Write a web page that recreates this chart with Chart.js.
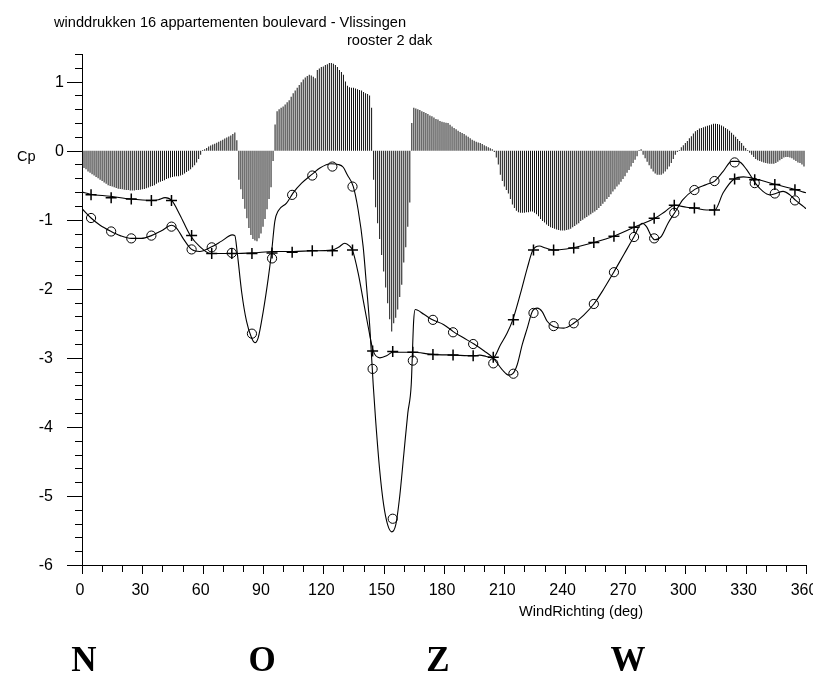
<!DOCTYPE html>
<html>
<head>
<meta charset="utf-8">
<script src="https://cdn.jsdelivr.net/npm/chart.js@4.4.1/dist/chart.umd.min.js"></script>
<style>
html,body{margin:0;padding:0;background:#fff;}
#wrap{position:relative;width:813px;height:673px;}
</style>
</head>
<body>
<div id="wrap"><canvas id="c" width="813" height="673"></canvas></div>
<script>
// ---------- data ----------
const titleLine1 = "winddrukken 16 appartementen boulevard - Vlissingen";
const titleLine2 = "rooster 2 dak";
const yAxisTitle = "Cp";
const xAxisTitle = "WindRichting (deg)";
const compassLabels = ["N", "O", "Z", "W"];

const xTickLabels = [0, 30, 60, 90, 120, 150, 180, 210, 240, 270, 300, 330, 360];
const yTickLabels = [1, 0, -1, -2, -3, -4, -5, -6];

// wind direction (deg) of every bar: one per degree
const barDirections = Array.from({length: 360}, (_, i) => i);
// bar values (Cp), 0..359 deg
const barCp = [
 -0.23,-0.25,-0.27,-0.30,-0.32,-0.34,-0.36,-0.38,-0.40,-0.42,
 -0.44,-0.46,-0.48,-0.50,-0.51,-0.52,-0.53,-0.54,-0.55,-0.555,
 -0.56,-0.565,-0.57,-0.57,-0.575,-0.575,-0.575,-0.57,-0.57,-0.565,
 -0.56,-0.555,-0.545,-0.535,-0.52,-0.51,-0.50,-0.48,-0.46,-0.45,
 -0.44,-0.43,-0.41,-0.40,-0.39,-0.38,-0.375,-0.37,-0.37,-0.36,
 -0.35,-0.33,-0.31,-0.29,-0.27,-0.24,-0.21,-0.17,-0.12,-0.06,
 0.01,0.02,0.04,0.06,0.075,0.09,0.10,0.115,0.13,0.145,
 0.16,0.175,0.19,0.205,0.22,0.24,0.265,0.15,-0.42,-0.56,
 -0.70,-0.84,-0.98,-1.12,-1.22,-1.28,-1.30,-1.31,-1.27,-1.20,
 -1.10,-0.99,-0.85,-0.70,-0.53,-0.15,0.38,0.57,0.60,0.62,
 0.64,0.67,0.70,0.73,0.78,0.83,0.87,0.91,0.95,0.99,
 1.03,1.06,1.08,1.10,1.09,1.07,1.05,1.17,1.19,1.21,
 1.22,1.24,1.25,1.27,1.27,1.26,1.24,1.21,1.17,1.14,
 1.10,1.00,0.94,0.92,0.91,0.91,0.90,0.89,0.88,0.87,
 0.85,0.83,0.82,0.80,0.62,-0.42,-0.82,-1.05,-1.28,-1.51,
 -1.75,-1.98,-2.21,-2.44,-2.62,-2.50,-2.42,-2.30,-2.12,-1.94,
 -1.62,-1.40,-1.10,-0.75,0.40,0.62,0.61,0.60,0.59,0.57,
 0.56,0.545,0.53,0.51,0.50,0.48,0.46,0.45,0.43,0.42,
 0.41,0.405,0.40,0.375,0.35,0.33,0.31,0.29,0.27,0.255,
 0.24,0.22,0.20,0.18,0.16,0.145,0.13,0.12,0.11,0.095,
 0.08,0.065,0.05,0.035,0.02,-0.02,-0.10,-0.20,-0.35,-0.44,
 -0.52,-0.57,-0.62,-0.70,-0.78,-0.83,-0.87,-0.89,-0.90,-0.90,
 -0.90,-0.89,-0.89,-0.88,-0.88,-0.90,-0.92,-0.95,-0.99,-1.02,
 -1.04,-1.07,-1.09,-1.11,-1.12,-1.13,-1.14,-1.15,-1.155,-1.155,
 -1.155,-1.15,-1.14,-1.13,-1.11,-1.09,-1.07,-1.05,-1.02,-1.00,
 -0.98,-0.96,-0.94,-0.92,-0.90,-0.88,-0.86,-0.83,-0.80,-0.77,
 -0.74,-0.70,-0.67,-0.63,-0.59,-0.56,-0.52,-0.49,-0.45,-0.41,
 -0.37,-0.32,-0.28,-0.23,-0.18,-0.13,-0.08,0.01,0.02,-0.06,
 -0.11,-0.16,-0.21,-0.26,-0.30,-0.33,-0.35,-0.35,-0.35,-0.33,
 -0.30,-0.27,-0.23,-0.18,-0.12,-0.06,-0.02,0.01,0.05,0.08,
 0.11,0.14,0.18,0.21,0.25,0.28,0.30,0.32,0.33,0.34,
 0.35,0.36,0.37,0.38,0.39,0.39,0.385,0.38,0.365,0.35,
 0.33,0.31,0.29,0.26,0.23,0.20,0.17,0.14,0.11,0.07,
 0.04,0.01,-0.03,-0.06,-0.09,-0.12,-0.14,-0.15,-0.16,-0.17,
 -0.18,-0.185,-0.19,-0.19,-0.19,-0.18,-0.16,-0.14,-0.12,-0.10,
 -0.09,-0.09,-0.10,-0.11,-0.13,-0.15,-0.17,-0.18,-0.20,-0.23
];

// measured points (markers)
const markerDirections = [4.5,14.5,24.5,34.5,44.5,54.5,64.5,74.5,84.5,94.5,104.5,114.5,
  124.5,134.5,144.5,154.5,164.5,174.5,184.5,194.5,204.5,214.5,224.5,234.5,
  244.5,254.5,264.5,274.5,284.5,294.5,304.5,314.5,324.5,334.5,344.5,354.5];
const circleCp = [-0.975,-1.17,-1.27,-1.23,-1.10,-1.43,-1.40,-1.48,-2.65,-1.56,-0.64,-0.36,
  -0.23,-0.52,-3.16,-5.33,-3.04,-2.45,-2.63,-2.80,-3.08,-3.23,-2.35,-2.54,
  -2.50,-2.22,-1.76,-1.25,-1.27,-0.90,-0.57,-0.44,-0.17,-0.47,-0.62,-0.72];
const plusCp = [-0.64,-0.68,-0.70,-0.72,-0.72,-1.23,-1.49,-1.49,-1.49,-1.48,-1.47,-1.45,
  -1.45,-1.44,-2.90,-2.91,-2.92,-2.95,-2.96,-2.97,-2.99,-2.45,-1.44,-1.44,
  -1.41,-1.33,-1.24,-1.11,-0.98,-0.79,-0.83,-0.86,-0.41,-0.42,-0.49,-0.565];

// fitted curves
const circleCurveDir = [0,4.5,9,14.5,19,24.5,29.5,34.5,39.5,44.6,47,50.5,54.5,58.6,64,69.4,74.7,76,77.2,79.4,
  81.8,84.3,86,87.6,90.1,92.6,94.3,95.9,97.6,101.7,105,109.2,114.5,118.3,123.8,127.4,129.9,131.9,134.9,137.3,
  139.8,141.5,143.1,144.8,146,148,150,152,154,156,158,160,162,163.7,164.9,165.7,170,174.3,179.9,184.6,
  189.7,194.9,200,204.4,208.9,212.2,214.2,216.4,218.9,221.4,223.9,226.4,228.8,231.3,234.6,239.6,244.5,249.5,254.5,259.5,
  264.4,269.5,274.4,278.5,280.7,283.1,284.8,288.1,291.4,294.7,298.8,304.7,310.5,314.6,318.8,323,326.3,330.5,334.8,338.6,
  341.9,345,348.6,352,354.9,358.8,360];
const circleCurveCp = [-0.84,-0.975,-1.08,-1.17,-1.23,-1.27,-1.27,-1.23,-1.16,-1.08,-1.12,-1.28,-1.43,-1.46,-1.40,-1.31,-1.22,-1.23,-1.48,-2.05,
  -2.47,-2.71,-2.78,-2.71,-2.33,-1.85,-1.46,-1.02,-0.87,-0.76,-0.61,-0.47,-0.34,-0.25,-0.19,-0.20,-0.24,-0.35,-0.52,-0.855,
  -1.39,-1.97,-2.55,-3.39,-3.90,-4.62,-5.13,-5.42,-5.52,-5.42,-5.00,-4.40,-3.80,-3.39,-2.47,-2.30,-2.37,-2.45,-2.52,-2.62,
  -2.71,-2.80,-2.90,-3.00,-3.17,-3.25,-3.23,-3.10,-2.81,-2.57,-2.33,-2.28,-2.33,-2.47,-2.55,-2.57,-2.50,-2.38,-2.22,-2.00,
  -1.76,-1.50,-1.25,-1.05,-1.10,-1.24,-1.29,-1.24,-1.05,-0.90,-0.71,-0.56,-0.49,-0.44,-0.30,-0.155,-0.155,-0.275,-0.47,-0.59,
  -0.64,-0.62,-0.59,-0.64,-0.72,-0.81,-0.84];
const plusCurveDir = [0,4.1,14,24,34.6,38,41.3,44.6,48.7,53.7,58.6,64,75.2,85.2,95.1,105,114.5,124.1,127.5,130.7,
  133,134.5,137.3,139.8,142.3,144.8,148.1,151.5,154.4,164.3,174.3,184.6,194.8,197.8,201,204.4,208.1,211.4,214.2,218.1,
  221.4,224.2,227.4,230.5,234.6,243.5,254.5,264.4,274.4,284.8,290,294.7,300.6,304.7,310.5,314.6,318.8,324.3,328.9,334.8,
  345,354.9,358.8,360];
const plusCurveCp = [-0.60,-0.63,-0.66,-0.70,-0.72,-0.71,-0.68,-0.72,-0.93,-1.22,-1.39,-1.49,-1.49,-1.48,-1.46,-1.46,-1.45,-1.44,-1.40,-1.34,
  -1.38,-1.44,-1.77,-2.16,-2.55,-2.90,-3.00,-2.97,-2.92,-2.92,-2.95,-2.96,-2.97,-2.96,-2.98,-3.00,-2.81,-2.64,-2.45,-2.06,
  -1.70,-1.44,-1.38,-1.41,-1.44,-1.41,-1.33,-1.24,-1.11,-0.98,-0.88,-0.79,-0.82,-0.83,-0.86,-0.86,-0.61,-0.41,-0.38,-0.41,
  -0.49,-0.565,-0.60,-0.61];

// ---------- chart ----------
const SANS = '"Liberation Sans", Arial, Helvetica, sans-serif';
Chart.defaults.font.family = SANS;
Chart.defaults.color = '#000';

const pts = (xs, ys) => xs.map((v, i) => ({x: v, y: ys[i]}));

const decor = {
  id: 'decor',
  afterDraw(chart) {
    const {ctx, scales: {x, y}} = chart;
    ctx.save();
    ctx.strokeStyle = '#000';
    ctx.lineWidth = 1;
    // y tick marks (major every 1, minor every 0.2)
    for (let k = 0; k <= 37; k++) {
      const v = -6 + k * 0.2;
      const py = Math.round(y.getPixelForValue(v)) + 0.5;
      const major = Math.abs(v - Math.round(v)) < 1e-6;
      const len = major ? 15 : 7;
      ctx.beginPath(); ctx.moveTo(x.left - len, py); ctx.lineTo(x.left, py); ctx.stroke();
    }
    // x tick marks (every 10 deg)
    for (let d = 0; d <= 360; d += 10) {
      const px = Math.round(x.getPixelForValue(d)) + 0.5;
      const len = d % 30 === 0 ? 9 : 7;
      ctx.beginPath(); ctx.moveTo(px, y.bottom); ctx.lineTo(px, y.bottom + len); ctx.stroke();
    }
    ctx.fillStyle = '#000';
    // y tick labels
    ctx.font = '16px ' + SANS;
    ctx.textAlign = 'right';
    ctx.textBaseline = 'middle';
    yTickLabels.forEach(v => ctx.fillText(String(v), v < 0 ? 53 : 64, y.getPixelForValue(v) + 1));
    // texts
    ctx.font = '14.6px ' + SANS;
    ctx.textAlign = 'left';
    ctx.textBaseline = 'alphabetic';
    ctx.fillText(titleLine1, 54, 27);
    ctx.fillText(titleLine2, 347, 45);
    ctx.fillText(yAxisTitle, 17, 161);
    ctx.fillText(xAxisTitle, 519, 616);
    ctx.font = 'bold 35px "Liberation Serif", "Times New Roman", serif';
    ctx.textAlign = 'center';
    const cx = [84, 262, 438, 628];
    compassLabels.forEach((t, i) => ctx.fillText(t, cx[i], 671));
    ctx.restore();
  }
};

new Chart(document.getElementById('c'), {
  type: 'bar',
  data: {
    datasets: [
      {
        type: 'line', data: pts(circleCurveDir, circleCurveCp),
        borderColor: '#000', borderWidth: 1.1, pointRadius: 0, fill: false,
        cubicInterpolationMode: 'monotone', order: 1
      },
      {
        type: 'line', data: pts(plusCurveDir, plusCurveCp),
        borderColor: '#000', borderWidth: 1.1, pointRadius: 0, fill: false,
        cubicInterpolationMode: 'monotone', order: 1
      },
      {
        type: 'line', data: pts(markerDirections, circleCp), showLine: false,
        pointStyle: 'circle', pointRadius: 4.6, pointBorderWidth: 1,
        pointBorderColor: '#000', pointBackgroundColor: 'rgba(0,0,0,0)', order: 0
      },
      {
        type: 'line', data: pts(markerDirections, plusCp), showLine: false,
        pointStyle: 'cross', pointRadius: 5.5, pointBorderWidth: 1.5,
        pointBorderColor: '#000', pointBackgroundColor: '#000', order: 0
      },
      {
        type: 'bar', data: pts(barDirections, barCp),
        backgroundColor: '#111', borderWidth: 0, barThickness: 1, inflateAmount: 0, order: 3
      }
    ]
  },
  options: {
    responsive: false,
    devicePixelRatio: 1,
    animation: false,
    events: [],
    layout: {padding: {top: 54, right: 6, left: 0, bottom: 0}},
    plugins: {legend: {display: false}, tooltip: {enabled: false}, title: {display: false}},
    scales: {
      x: {
        type: 'linear', min: 0, max: 360, offset: false,
        grid: {display: false, drawTicks: false},
        border: {display: true, color: '#000', width: 1},
        ticks: {
          stepSize: 30, autoSkip: false, maxRotation: 0, padding: 16, labelOffset: -2,
          font: {size: 16}, color: '#000',
          callback: v => xTickLabels.includes(v) ? String(v) : ''
        },
        afterFit: s => { s.height = 108; s.paddingLeft = 0; s.paddingRight = 0; }
      },
      y: {
        type: 'linear', min: -6, max: 1.4,
        grid: {display: false, drawTicks: false},
        border: {display: true, color: '#000', width: 1},
        ticks: {display: false, stepSize: 0.2},
        afterFit: s => { s.width = 82; s.paddingTop = 0; s.paddingBottom = 0; }
      }
    }
  },
  plugins: [decor]
});
</script>
</body>
</html>
